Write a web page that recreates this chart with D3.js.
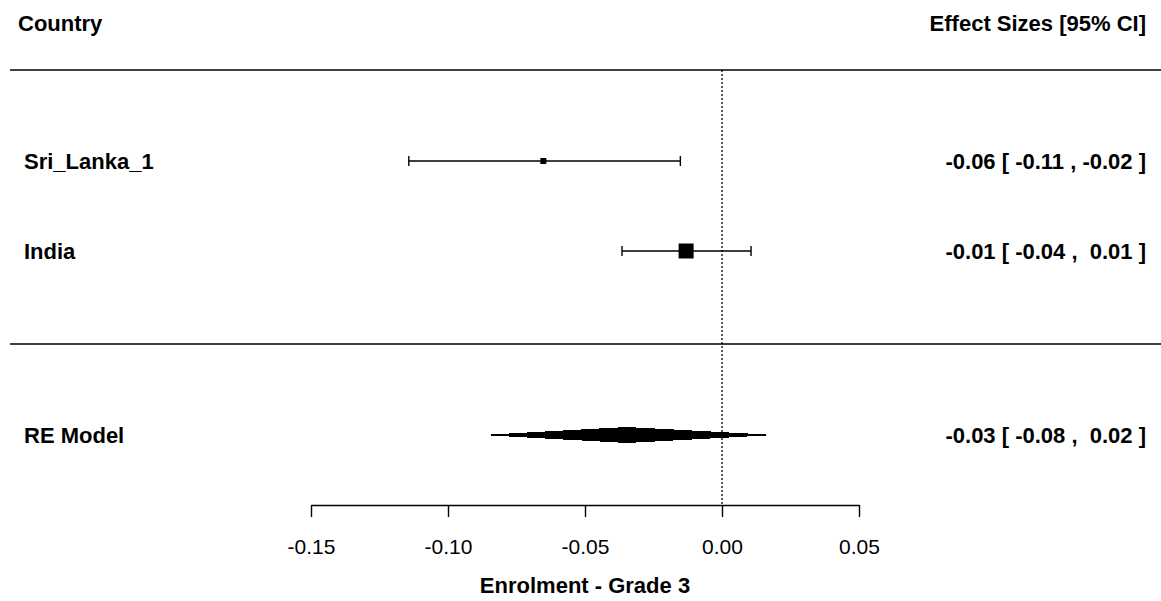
<!DOCTYPE html>
<html><head><meta charset="utf-8">
<script src="https://cdn.jsdelivr.net/npm/d3@7"></script>
<style>body{margin:0;background:#fff}svg text{font-family:"Liberation Sans",Arial,sans-serif;white-space:pre}</style>
</head><body><svg id="c" width="1161" height="601"></svg>
<script>
const studies = ["Sri_Lanka_1", "India"];
const estimates = [-0.0652, -0.0131];
const lowers = [-0.1143, -0.0365];
const uppers = [-0.0152, 0.0106];
const squareSizes = [6, 15];
const estLabels = ["-0.06 [ -0.11 , -0.02 ]", "-0.01 [ -0.04 ,  0.01 ]"];
const reLabel = "RE Model";
const reEstimate = -0.0347, reLower = -0.0843, reUpper = 0.0161;
const reText = "-0.03 [ -0.08 ,  0.02 ]";
const ticks = [-0.15, -0.10, -0.05, 0.00, 0.05];
const headerLeft = "Country", headerRight = "Effect Sizes [95% CI]";
const xTitle = "Enrolment - Grade 3";

const FS = 22;
const svg = d3.select("#c");
const x = d3.scaleLinear().domain([-0.15, 0.05]).range([311, 859]);
const rowY = d3.scalePoint().domain(studies).range([161, 251]);
const reY = 435;

// header
svg.append("text").attr("x", 18).attr("y", 31).attr("font-size", FS).attr("font-weight", "bold").text(headerLeft);
svg.append("text").attr("x", 1146).attr("y", 31).attr("font-size", FS).attr("font-weight", "bold").attr("text-anchor", "end").text(headerRight);
// horizontal rules
[70, 344].forEach(y => svg.append("line").attr("x1", 10).attr("x2", 1161).attr("y1", y).attr("y2", y).attr("stroke", "#000").attr("stroke-width", 1.5));
// reference line
svg.append("line").attr("x1", x(0)).attr("x2", x(0)).attr("y1", 70).attr("y2", 505)
  .attr("stroke", "#000").attr("stroke-width", 1.3).attr("stroke-dasharray", "2,2");

// studies
studies.forEach((s, i) => {
  const y = rowY(s);
  const g = svg.append("g");
  g.append("line").attr("x1", x(lowers[i])).attr("x2", x(uppers[i])).attr("y1", y).attr("y2", y).attr("stroke", "#000").attr("stroke-width", 1.4);
  [lowers[i], uppers[i]].forEach(v => g.append("line").attr("x1", x(v)).attr("x2", x(v)).attr("y1", y - 5).attr("y2", y + 5).attr("stroke", "#000").attr("stroke-width", 1.4));
  const sz = squareSizes[i];
  g.append("rect").attr("x", x(estimates[i]) - sz / 2).attr("y", y - sz / 2).attr("width", sz).attr("height", sz).attr("fill", "#000");
  svg.append("text").attr("x", 24).attr("y", y + 8).attr("font-size", FS).attr("font-weight", "bold").text(s);
  svg.append("text").attr("x", 1146).attr("y", y + 8).attr("font-size", FS).attr("font-weight", "bold").attr("text-anchor", "end").text(estLabels[i]);
});

// RE diamond
const dpts = [[x(reLower), reY], [x(reEstimate), reY - 7.5], [x(reUpper), reY], [x(reEstimate), reY + 7.5]];
svg.append("line").attr("x1", x(reLower)).attr("x2", x(reUpper)).attr("y1", reY).attr("y2", reY).attr("stroke", "#000").attr("stroke-width", 1.4);
svg.append("path").attr("d", "M" + dpts.join("L") + "Z").attr("fill", "#000").attr("stroke", "#000").attr("stroke-width", 1).attr("shape-rendering", "crispEdges");
svg.append("text").attr("x", 24).attr("y", reY + 8).attr("font-size", FS).attr("font-weight", "bold").text(reLabel);
svg.append("text").attr("x", 1146).attr("y", reY + 8).attr("font-size", FS).attr("font-weight", "bold").attr("text-anchor", "end").text(reText);

// axis
const ax = svg.append("g").attr("transform", "translate(0,505)")
  .call(d3.axisBottom(x).tickValues(ticks).tickFormat(d3.format(".2f")).tickSize(12).tickPadding(22).tickSizeOuter(0));
ax.select(".domain").attr("stroke-width", 1.4);
ax.selectAll(".tick line").attr("stroke-width", 1.4);
ax.selectAll("text").attr("font-size", 21).attr("font-family", "Liberation Sans, Arial, sans-serif").attr("fill", "#000");
ax.selectAll(".tick text").text(d => d3.format(".2f")(d).replace("−", "-"));

svg.append("text").attr("x", x(-0.05)).attr("y", 593).attr("font-size", FS).attr("font-weight", "bold").attr("text-anchor", "middle").text(xTitle);
</script></body></html>
